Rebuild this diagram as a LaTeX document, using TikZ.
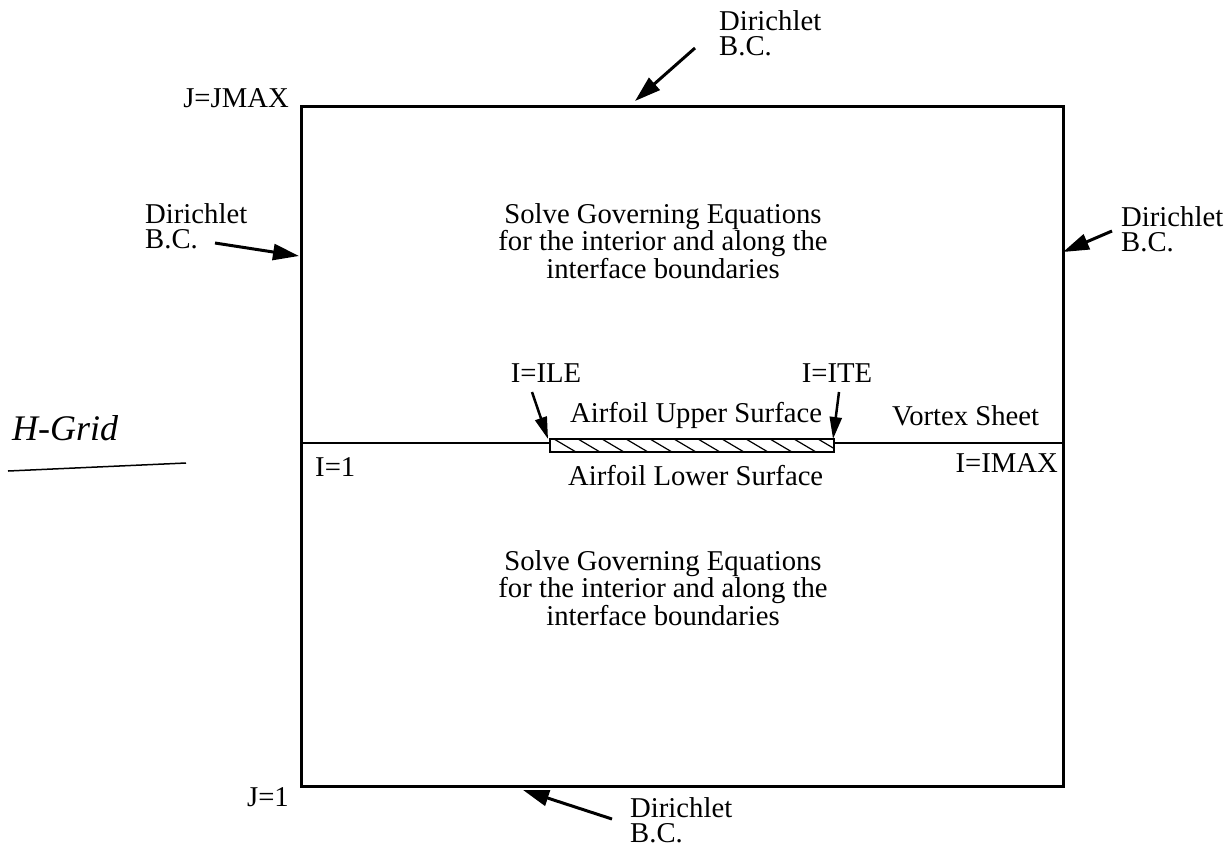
\documentclass[tikz,border=0pt]{standalone}
\usepackage{fontspec}
\setmainfont{Liberation Serif}
\usetikzlibrary{arrows.meta}
\tikzset{
  lbl/.style={inner sep=0pt, font=\fontsize{28.7}{25}\selectfont},
  bcarrow/.style={line width=3pt, -{Triangle[length=26pt,width=16pt]}},
  frame/.style={line width=3pt},
}
\begin{document}
\begin{tikzpicture}[x=1pt,y=-1pt]
\useasboundingbox (0,0) rectangle (1230,847);
% box
\coordinate (TL) at (301,106);
\coordinate (BR) at (1063,786);
\draw[frame] (TL) rectangle (BR);
% vortex sheet line
\coordinate (VL) at (301,443);
\coordinate (VR) at (1063,443);
\draw[line width=2pt] (VL) -- (VR);
% airfoil
\coordinate (A1) at (550,439);
\coordinate (A2) at (834,452);
\fill[white] (A1) rectangle (A2);
\begin{scope}
\clip (A1) rectangle (A2);
\foreach \x in {530,554,...,850}{
  \draw[line width=1.2pt] (\x,439) -- (\x+22,452);
}
\end{scope}
\draw[line width=2pt] (A1) rectangle (A2);

% corner labels
\node[lbl, anchor=base east] (jmax) at (289,107) {J=JMAX};
\node[lbl, anchor=base east] (j1) at (289,806) {J=1};
\node[lbl, anchor=base west] (i1) at (315,476) {I=1};
\node[lbl, anchor=base east] (imax) at (1058,472) {I=IMAX};

% Dirichlet labels (anchor = baseline of last line)
\node[lbl, anchor=base west, align=left] (dtop) at (719,55) {Dirichlet\\B.C.};
\node[lbl, anchor=base west, align=left] (dleft) at (145,248) {Dirichlet\\B.C.};
\node[lbl, anchor=base west, align=left] (dright) at (1121,251) {Dirichlet\\B.C.};
\node[lbl, anchor=base west, align=left] (dbot) at (630,842) {Dirichlet\\B.C.};

\coordinate (ttail) at (695,48);  \coordinate (ttip) at (635,101);
\coordinate (ltail) at (215,243); \coordinate (ltip) at (299,256);
\coordinate (rtail) at (1112,231);\coordinate (rtip) at (1063,252);
\coordinate (btail) at (612,819); \coordinate (btip) at (523,790);
\draw[bcarrow] (ttail) -- (ttip);
\draw[bcarrow] (ltail) -- (ltip);
\draw[bcarrow] (rtail) -- (rtip);
\draw[bcarrow] (btail) -- (btip);

% interior text
\node[lbl, anchor=base, align=center] (solveup) at (663,278) {Solve Governing Equations\\for the interior and along the\\interface boundaries};
\node[lbl, anchor=base, align=center] (solvelo) at (663,625) {Solve Governing Equations\\for the interior and along the\\interface boundaries};

\node[lbl, anchor=base west] (upper) at (570,422) {Airfoil Upper Surface};
\node[lbl, anchor=base west] (lower) at (568,485) {Airfoil Lower Surface};
\node[lbl, anchor=base west] (vortex) at (892,425) {Vortex Sheet};

\node[lbl, anchor=base] (ile) at (546,382) {I=ILE};
\node[lbl, anchor=base] (ite) at (837,382) {I=ITE};
\coordinate (iletail) at (532,392); \coordinate (iletip) at (548,439);
\coordinate (itetail) at (839,392); \coordinate (itetip) at (833,439);
\draw[line width=2.5pt, -{Triangle[length=22pt,width=12pt]}] (iletail) -- (iletip);
\draw[line width=2.5pt, -{Triangle[length=22pt,width=12pt]}] (itetail) -- (itetip);

% handwritten H-Grid
\node[inner sep=0pt, anchor=base west, font=\fontsize{36}{36}\selectfont\itshape] (hgrid) at (12,440) {H-Grid};
\coordinate (u1) at (8,471); \coordinate (u2) at (186,463);
\draw[line width=1.5pt] (u1) -- (u2);
\end{tikzpicture}
\end{document}
